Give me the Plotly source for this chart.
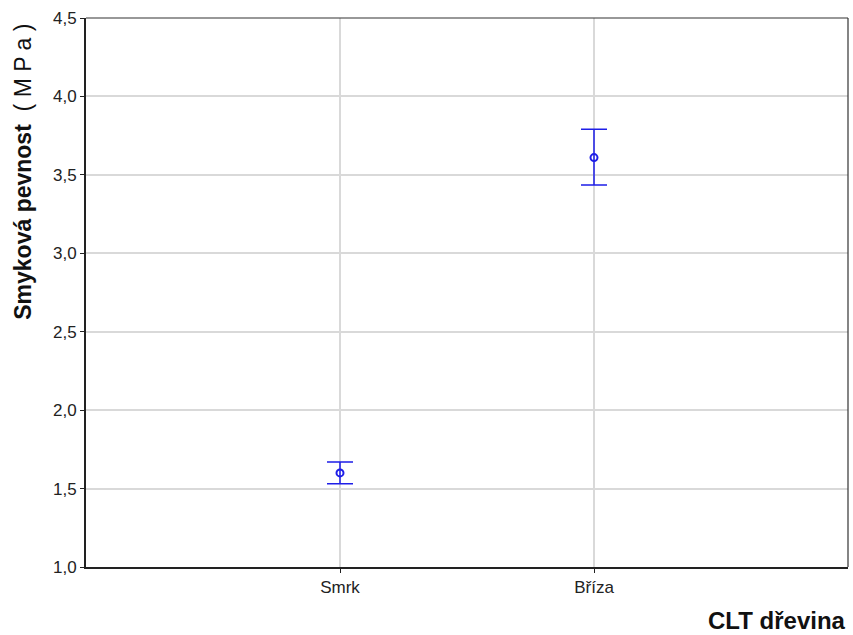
import plotly.graph_objects as go

categories = ["Smrk", "Bříza"]
means = [1.60, 3.61]
upper = [1.67, 3.79]
lower = [1.53, 3.435]
y_ticks = [1.0, 1.5, 2.0, 2.5, 3.0, 3.5, 4.0, 4.5]
y_tick_labels = ["1,0", "1,5", "2,0", "2,5", "3,0", "3,5", "4,0", "4,5"]

err_plus = [u - m for u, m in zip(upper, means)]
err_minus = [m - l for m, l in zip(means, lower)]

fig = go.Figure()
fig.add_trace(go.Scatter(
    x=[0, 1], y=means, mode="markers",
    marker=dict(symbol="circle-open", size=7, color="#1e1ee8", line=dict(width=2, color="#1e1ee8")),
    error_y=dict(type="data", symmetric=False, array=err_plus, arrayminus=err_minus,
                 color="#1e1ee8", thickness=1.5, width=13),
    showlegend=False,
))

fig.update_layout(
    width=853, height=635,
    margin=dict(l=86, r=5, t=18, b=68),
    plot_bgcolor="white", paper_bgcolor="white",
    font=dict(family="Liberation Sans, Arial, sans-serif", size=17, color="#222222"),
)
fig.update_xaxes(
    range=[-1, 2], tickvals=[0, 1], ticktext=categories,
    showgrid=True, gridcolor="#d9d9d9", gridwidth=1.5,
    showline=True, linecolor="#222222", linewidth=2, mirror=False,
    ticks="outside", ticklen=4, tickcolor="#222222", zeroline=False,
)
fig.update_yaxes(
    range=[1.0, 4.5], tickvals=y_ticks, ticktext=y_tick_labels,
    showgrid=True, gridcolor="#d9d9d9", gridwidth=1.5,
    showline=True, linecolor="#222222", linewidth=2, mirror=False,
    ticks="outside", ticklen=4, tickcolor="#222222", zeroline=False,
)
# top and right frame (thinner)
fig.add_shape(type="line", xref="paper", yref="paper", x0=0, x1=1, y0=1, y1=1,
              line=dict(color="#333333", width=1.2))
fig.add_shape(type="line", xref="paper", yref="paper", x0=1, x1=1, y0=0, y1=1,
              line=dict(color="#333333", width=1.2))

fig.add_annotation(
    text="<b>Smyková pevnost</b>  ( M P a )", textangle=-90,
    xref="paper", yref="paper", x=-0.083, y=(567 - 172) / 549,
    xanchor="center", yanchor="middle", showarrow=False,
    font=dict(size=23, color="#111111"),
)
fig.add_annotation(
    text="<b>CLT dřevina</b>",
    xref="paper", yref="paper", x=1, y=-0.098,
    xanchor="right", yanchor="middle", showarrow=False,
    font=dict(size=24, color="#111111"),
)

fig.write_html("out.html", config={"displayModeBar": False},
               post_script="document.body.style.margin='0px';")
